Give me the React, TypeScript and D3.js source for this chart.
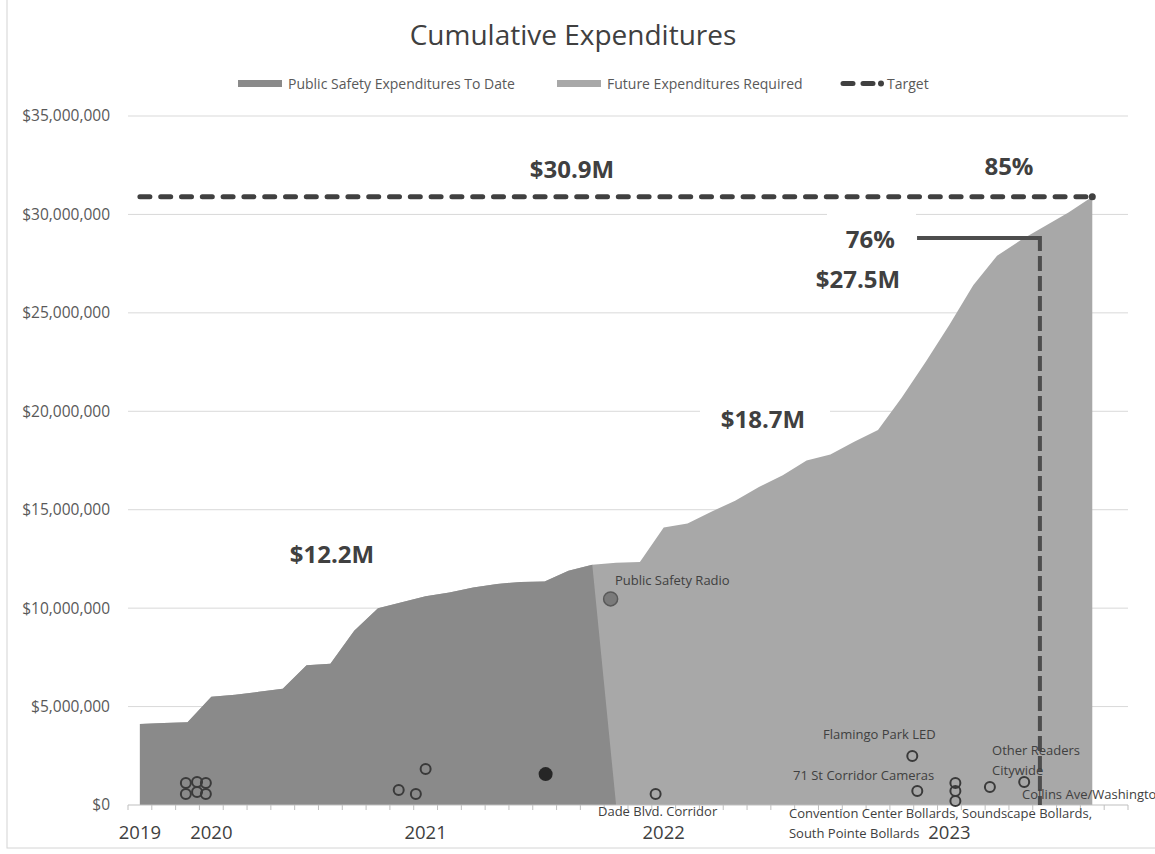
import * as d3 from "d3";

// cumulative spend per reporting period, $M (category centers 0..40)
const cumulative = [
  4.12, 4.17, 4.2, 5.5, 5.6, 5.75, 5.9, 7.1, 7.17, 8.85,
  10.0, 10.3, 10.6, 10.8, 11.05, 11.23, 11.33, 11.35, 11.9, 12.2,
  12.3, 12.35, 14.1, 14.3, 14.9, 15.45, 16.15, 16.75, 17.5, 17.8,
  18.45, 19.05, 20.7, 22.5, 24.4, 26.4, 27.9, 28.7, 29.4, 30.1, 30.9,
];
const toDateCount = 20; // periods already spent
const categoryCount = 42;
const target = 30.9;
const spentLevel = 28.8;
const spentFrom = 33.14;
const spentAt = 38.3;

const yTicks = [0, 5, 10, 15, 20, 25, 30, 35];
const yearLabels = ["2019", "2020", "2021", "2022", "2023"];
const yearIndex = [0, 3, 12, 22, 34];

// project markers: category position, $M, kind
const projectPos = [1.93, 2.4, 2.77, 1.93, 2.4, 2.77, 10.87, 11.59, 12.0, 17.04, 19.77, 21.66, 32.44, 32.65, 34.25, 34.25, 34.25, 35.7, 37.14];
const projectValue = [1.12, 1.17, 1.12, 0.56, 0.66, 0.56, 0.76, 0.56, 1.83, 1.57, 10.47, 0.56, 2.49, 0.71, 1.12, 0.71, 0.2, 0.91, 1.17];
const projectKind = ["o", "o", "o", "o", "o", "o", "o", "o", "o", "black", "gray", "o", "o", "o", "o", "o", "o", "o", "o"];

// labels: text, x (axis units), y ($M), anchor
const noteText = ["$30.9M", "85%", "76%", "$27.5M", "$18.7M", "$12.2M"];
const noteX = [18.65, 37.0, 32.21, 30.66, 26.67, 8.57];
const noteY = [31.85, 32.0, 28.29, 26.26, 19.15, 12.29];
const noteAnchor = ["middle", "middle", "end", "middle", "middle", "middle"];

const projText = [
  "Public Safety Radio", "Flamingo Park LED", "71 St Corridor Cameras", "Other Readers", "Citywide",
  "Collins Ave/Washington", "Dade Blvd. Corridor", "Convention Center Bollards, Soundscape Bollards,", "South Pointe Bollards",
];
const projTextX = [20.45, 29.19, 27.93, 36.29, 36.29, 37.55, 19.74, 27.76, 27.76];
const projTextY = [11.18, 3.35, 1.27, 2.54, 1.52, 0.3, -0.56, -0.68, -1.68];

const W = 1155;
const H = 854;
const FONT = "'Open Sans', sans-serif";

export default function App() {
  const x = d3.scaleLinear().domain([0, categoryCount]).range([128, 1128]);
  const y = d3.scaleLinear().domain([0, 35]).range([805, 116]);
  const cx = (i: number) => x(i + 0.5);

  const area = d3.area<number>()
    .x((_, i) => cx(i))
    .y0(y(0))
    .y1(d => y(d));

  const toDate = cumulative.slice(0, toDateCount + 1).map((v, i) => (i < toDateCount ? v : 0));
  const fmt = d3.format("$,.0f");
  const last = cumulative.length - 1;

  return (
    <svg width={W} height={H} style={{ position: "absolute", left: 0, top: 0, background: "#fff" }} fontFamily={FONT}>
      <rect x={7} y={-1} width={W} height={849} fill="#fff" stroke="#d4d4d4" />
      <text x={573} y={45} textAnchor="middle" fontSize={28} fill="#404040">Cumulative Expenditures</text>

      {/* legend */}
      <g fontSize={14} fill="#595959">
        <rect x={238} y={80} width={44} height={7} fill="#8a8a8a" />
        <text x={288} y={88.5}>Public Safety Expenditures To Date</text>
        <rect x={557} y={80} width={44} height={7} fill="#a8a8a8" />
        <text x={607} y={88.5}>Future Expenditures Required</text>
        <line x1={843} x2={873} y1={83.5} y2={83.5} stroke="#404040" strokeWidth={5} strokeDasharray="10 10" strokeLinecap="round" />
        <circle cx={881} cy={83.5} r={3} fill="#404040" />
        <text x={887} y={88.5}>Target</text>
      </g>

      {/* grid + y axis */}
      {yTicks.map(t => (
        <g key={t}>
          {t > 0 && <line x1={x(0)} x2={x(categoryCount)} y1={y(t)} y2={y(t)} stroke="#d9d9d9" />}
          <text x={110} y={y(t)} dy="0.35em" textAnchor="end" fontSize={15.5} fill="#595959">
            {fmt(t * 1e6)}
          </text>
        </g>
      ))}

      {/* areas */}
      <path d={area(cumulative) ?? ""} fill="#a8a8a8" />
      <path d={area(toDate) ?? ""} fill="#8a8a8a" />

      {/* x axis */}
      <line x1={x(0)} x2={x(categoryCount)} y1={y(0)} y2={y(0)} stroke="#bfbfbf" />
      {d3.range(categoryCount + 1).map(i => (
        <line key={i} x1={x(i)} x2={x(i)} y1={y(0)} y2={y(0) + 5} stroke="#bfbfbf" />
      ))}
      {yearLabels.map((t, i) => (
        <text key={t} x={cx(yearIndex[i])} y={839} textAnchor="middle" fontSize={18.5} fill="#404040">{t}</text>
      ))}

      {/* text boxes with white fill */}
      <rect x={700} y={398} width={130} height={42} fill="#fff" />
      <rect x={827} y={205} width={89} height={95} fill="#fff" />

      {/* target */}
      <line x1={cx(0)} x2={cx(last)} y1={y(target)} y2={y(target)} stroke="#404040" strokeWidth={5} strokeDasharray="10 10.8" strokeLinecap="round" />
      <circle cx={cx(last)} cy={y(target)} r={3.5} fill="#404040" />

      {/* spent to date marker */}
      <line x1={x(spentFrom)} x2={x(spentAt)} y1={y(spentLevel)} y2={y(spentLevel)} stroke="#4d4d4d" strokeWidth={4} />
      <line x1={x(spentAt)} x2={x(spentAt)} y1={y(spentLevel) - 2} y2={y(0)} stroke="#4d4d4d" strokeWidth={4} strokeDasharray="15 5" />

      {/* annotations */}
      {noteText.map((t, i) => (
        <text key={t} x={x(noteX[i])} y={y(noteY[i])} textAnchor={noteAnchor[i] as any} fontSize={24} fontWeight={700} fill="#404040">{t}</text>
      ))}

      {/* projects */}
      {projectPos.map((p, i) => {
        const k = projectKind[i];
        if (k === "black") return <circle key={i} cx={cx(p)} cy={y(projectValue[i])} r={7} fill="#262626" />;
        if (k === "gray") return <circle key={i} cx={cx(p)} cy={y(projectValue[i])} r={7} fill="#7a7a7a" stroke="#595959" strokeWidth={1.5} />;
        return <circle key={i} cx={cx(p)} cy={y(projectValue[i])} r={5} fill="none" stroke="#3a3a3a" strokeWidth={2} />;
      })}
      {projText.map((t, i) => (
        <text key={t} x={x(projTextX[i])} y={y(projTextY[i])} fontSize={13} fill="#404040">{t}</text>
      ))}
    </svg>
  );
}
